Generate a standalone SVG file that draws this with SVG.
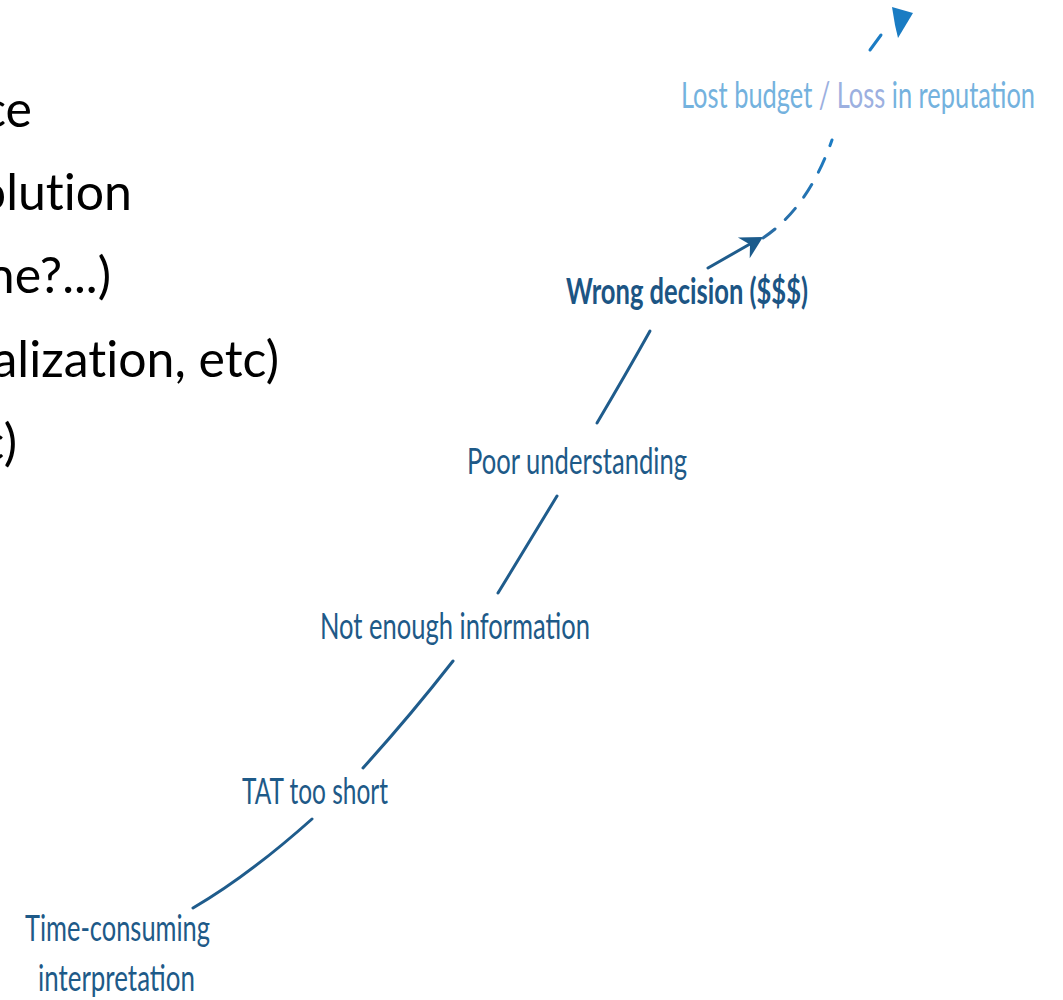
<svg xmlns="http://www.w3.org/2000/svg" width="1063" height="1000" viewBox="0 0 1063 1000">
<style>
.bul{font-family:Lato,"Open Sans","Liberation Sans",sans-serif;font-size:50px;fill:#000;text-anchor:end;font-variant-ligatures:none}
.lbl{font-family:Lato,"Open Sans","Liberation Sans",sans-serif;font-size:37px;fill:#1e5a88}
.ln{fill:none;stroke:#1f5c8c;stroke-width:3;stroke-linecap:round}
</style>
<defs>
<linearGradient id="dg" x1="0" y1="1" x2="0" y2="0">
<stop offset="0" stop-color="#2a6ca3"/>
<stop offset="1" stop-color="#1c7cc4"/>
</linearGradient>
</defs>
<rect width="1063" height="1000" fill="#fff"/>
<g id="bullets">
<text class="bul" x="32" y="127">ce</text>
<text class="bul" x="132" y="210">olution</text>
<text class="bul" x="111" y="293">ne?...)</text>
<text class="bul" x="279" y="377">alization, etc)</text>
<text class="bul" x="17" y="460">c)</text>
</g>
<g id="connectors">
<path class="ln" d="M193,908 Q247.5,876.5 312,819"/>
<path class="ln" d="M363,768 Q410,716 453,661"/>
<path class="ln" d="M498,593 L557,496"/>
<path class="ln" d="M597,423 Q626,374 650,331"/>
<path class="ln" d="M708,268 L750,244"/>
<polygon points="763,237 737.9,237.4 750,244.4 749.7,258.3" fill="#1b5b8c"/>
<path d="M763,238 Q808,208 832,140" fill="none" stroke="url(#dg)" stroke-width="3" stroke-dasharray="15 14" stroke-linecap="round"/>
<path d="M870,50 L881,35" fill="none" stroke="#1c7cc4" stroke-width="3" stroke-linecap="round"/>
<polygon points="913,13 892,7 895,25 898,38" fill="#1a7cc3"/>
</g>
<g id="n-lost"><text class="lbl" x="681" y="108" font-size="38" textLength="354" lengthAdjust="spacingAndGlyphs" style="fill:#74b2de">Lost budget <tspan style="fill:#9cb0e0">/ Loss</tspan> in reputation</text></g>
<g id="n-wrong"><text class="lbl" x="566" y="304" font-size="35" font-weight="bold" textLength="242" lengthAdjust="spacingAndGlyphs" style="fill:#1c5584">Wrong decision ($$$)</text></g>
<g id="n-poor"><text class="lbl" x="467" y="474" textLength="220" lengthAdjust="spacingAndGlyphs">Poor understanding</text></g>
<g id="n-notenough"><text class="lbl" x="320" y="639" textLength="270" lengthAdjust="spacingAndGlyphs">Not enough information</text></g>
<g id="n-tat"><text class="lbl" x="242" y="804" textLength="146" lengthAdjust="spacingAndGlyphs">TAT too short</text></g>
<g id="n-time"><text class="lbl" x="25" y="941" textLength="185" lengthAdjust="spacingAndGlyphs">Time-consuming</text><text class="lbl" x="38" y="991" textLength="157" lengthAdjust="spacingAndGlyphs">interpretation</text></g>
</svg>
